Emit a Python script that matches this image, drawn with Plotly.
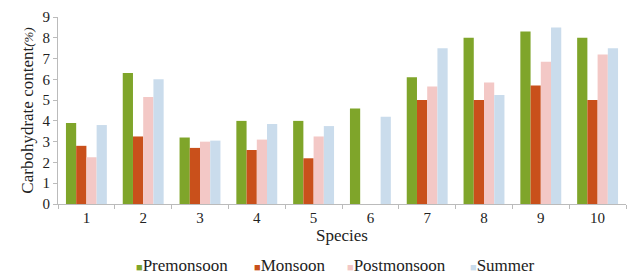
import plotly.graph_objects as go

species = ["1", "2", "3", "4", "5", "6", "7", "8", "9", "10"]
premonsoon = [3.9, 6.3, 3.2, 4.0, 4.0, 4.6, 6.1, 8.0, 8.3, 8.0]
monsoon = [2.8, 3.25, 2.7, 2.6, 2.2, 0, 5.0, 5.0, 5.7, 5.0]
postmonsoon = [2.25, 5.15, 3.0, 3.1, 3.25, 0, 5.65, 5.85, 6.85, 7.2]
summer = [3.8, 6.0, 3.05, 3.85, 3.75, 4.2, 7.5, 5.25, 8.5, 7.5]

series = [
    ("Premonsoon", premonsoon, "#7fa52a"),
    ("Monsoon", monsoon, "#c9501b"),
    ("Postmonsoon", postmonsoon, "#f3c8c6"),
    ("Summer", summer, "#cadcec"),
]

font = "Liberation Serif, Times New Roman, serif"

fig = go.Figure()
for name, vals, col in series:
    fig.add_trace(go.Bar(
        x=species, y=vals, name=name,
        marker=dict(color=col, line=dict(width=0)),
        showlegend=False,
    ))

# legend drawn as text entries below the chart
legend_x = [0.134, 0.342, 0.505, 0.722]
for (name, vals, col), lx in zip(series, legend_x):
    fig.add_annotation(
        x=lx, y=-0.327, xref="paper", yref="paper",
        xanchor="left", yanchor="middle", showarrow=False,
        text=f'<span style="color:{col};font-size:11px">■</span>{name}',
        font=dict(family=font, size=17, color="#222"),
    )

fig.update_layout(
    width=635, height=277,
    margin=dict(l=58, r=9, t=17, b=73),
    paper_bgcolor="white", plot_bgcolor="white",
    barmode="group", bargap=0.28, bargroupgap=0,
    font=dict(family=font, size=15, color="#222"),
    xaxis=dict(
        title=dict(text="Species", font=dict(family=font, size=17), standoff=1),
        type="category", tickson="boundaries", ticks="outside", ticklen=4,
        tickcolor="#bbb", showline=True, linecolor="#bbb", linewidth=1,
        showgrid=False, tickfont=dict(family=font, size=15),
        automargin=False,
    ),
    yaxis=dict(
        title=dict(text='Carbohydrate content<i><span style="font-size:13px">(%)</span></i>',
                   font=dict(family=font, size=17), standoff=4),
        range=[0, 9], dtick=1, ticks="outside", ticklen=4, tickcolor="#bbb",
        showline=True, linecolor="#bbb", linewidth=1, showgrid=False,
        zeroline=False, tickfont=dict(family=font, size=15),
        automargin=False,
    ),
)

fig.write_html("out.html", config={"displayModeBar": False},
               post_script="document.body.style.margin='0';document.body.style.overflow='hidden';")
